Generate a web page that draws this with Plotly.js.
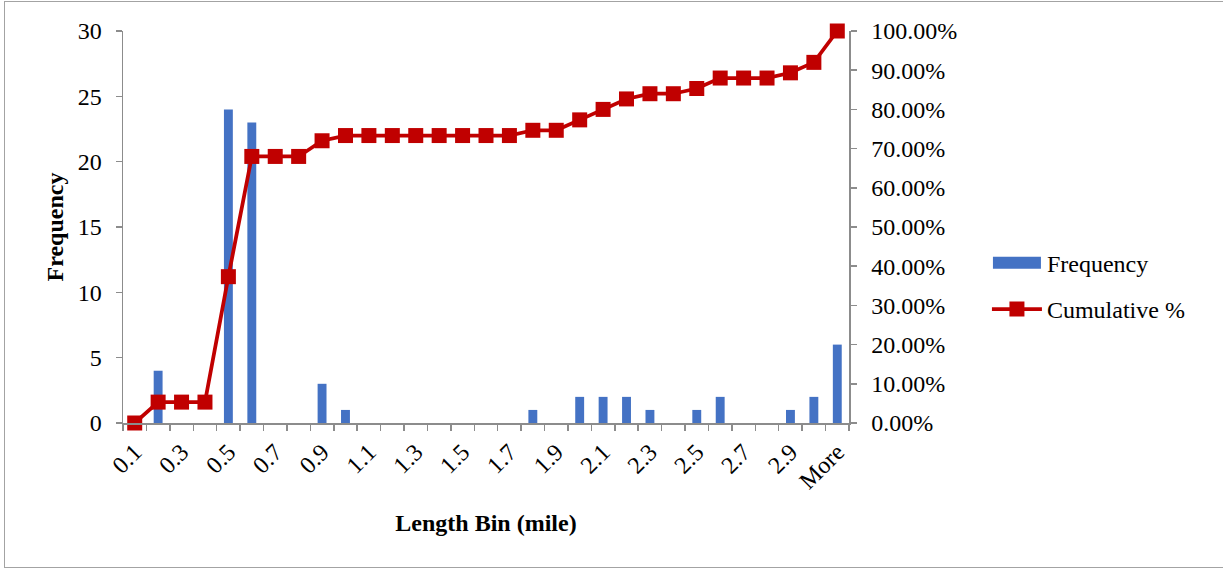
<!DOCTYPE html>
<html>
<head>
<meta charset="utf-8">
<script src="https://cdn.plot.ly/plotly-3.0.1.min.js"></script>
<style>
  html, body { margin: 0; padding: 0; background: #ffffff; }
  #wrap { position: relative; width: 1223px; height: 569px; overflow: hidden; }
  #chart { width: 1223px; height: 569px; }
  #frame {
    position: absolute; left: 4px; top: 1px; width: 1240px; height: 565px;
    border: 1.5px solid #a3a3a3; pointer-events: none;
  }
</style>
</head>
<body>
<div id="wrap">
  <div id="chart"></div>
  <div id="frame"></div>
</div>
<script>
// Length bins (miles) used for the histogram
const bins = ['0.1','0.2','0.3','0.4','0.5','0.6','0.7','0.8','0.9','1.0',
              '1.1','1.2','1.3','1.4','1.5','1.6','1.7','1.8','1.9','2.0',
              '2.1','2.2','2.3','2.4','2.5','2.6','2.7','2.8','2.9','3.0','More'];

// Axis labels printed under every other bin
const binLabels = ['0.1','','0.3','','0.5','','0.7','','0.9','',
                   '1.1','','1.3','','1.5','','1.7','','1.9','',
                   '2.1','','2.3','','2.5','','2.7','','2.9','','More'];

// Count of segments falling in each bin
const frequency = [0, 4, 0, 0, 24, 23, 0, 0, 3, 1,
                   0, 0, 0, 0, 0, 0, 0, 1, 0, 2,
                   2, 2, 1, 0, 1, 2, 0, 0, 1, 2, 6];

// Cumulative share of segments (percent)
const cumulativePct = [0.00, 5.33, 5.33, 5.33, 37.33, 68.00, 68.00, 68.00, 72.00, 73.33,
                       73.33, 73.33, 73.33, 73.33, 73.33, 73.33, 73.33, 74.67, 74.67, 77.33,
                       80.00, 82.67, 84.00, 84.00, 85.33, 88.00, 88.00, 88.00, 89.33, 92.00, 100.00];

const serif = 'Liberation Serif, Times New Roman, serif';
const axisGray = '#8c8c8c';
const tickFont = { family: serif, size: 24, color: '#000000' };

const traces = [
  {
    type: 'bar',
    name: 'Frequency',
    x: bins,
    y: frequency,
    marker: { color: '#4472C4' },
    legendgroup: 'a',
    hoverinfo: 'x+y'
  },
  {
    type: 'scatter',
    mode: 'lines+markers',
    name: 'Cumulative %',
    x: bins,
    y: cumulativePct,
    yaxis: 'y2',
    line: { color: '#C00000', width: 3.75 },
    marker: { symbol: 'square', size: 15, color: '#C00000' },
    cliponaxis: false,
    legendgroup: 'b'
  }
];

const layout = {
  width: 1223,
  height: 569,
  margin: { l: 123, r: 374, t: 31, b: 146 },
  paper_bgcolor: '#ffffff',
  plot_bgcolor: '#ffffff',
  font: { family: serif, size: 22, color: '#000000' },
  bargap: 0.62,
  showlegend: true,
  legend: {
    x: 1.19, xanchor: 'left',
    y: 0.465, yanchor: 'top',
    itemwidth: 50,
    traceorder: 'grouped',
    tracegroupgap: 12,
    font: { family: serif, size: 24, color: '#000000' },
    bgcolor: 'rgba(0,0,0,0)'
  },
  xaxis: {
    type: 'category',
    range: [-0.5, bins.length - 0.5],
    autorange: false,
    tickmode: 'array',
    tickvals: bins,
    ticktext: binLabels,
    tickangle: -45,
    tickson: 'boundaries',
    ticks: 'outside',
    ticklen: 6,
    tickcolor: axisGray,
    tickwidth: 1.5,
    ticklabelstandoff: 4,
    showline: true,
    linecolor: axisGray,
    linewidth: 1.5,
    showgrid: false,
    zeroline: false,
    tickfont: tickFont,
    title: {
      text: '<b>Length Bin (mile)</b>',
      font: { family: serif, size: 24, color: '#000000' },
      standoff: 21
    }
  },
  yaxis: {
    range: [0, 30],
    dtick: 5,
    ticks: 'outside',
    ticklen: 6,
    tickcolor: axisGray,
    tickwidth: 1.5,
    ticklabelstandoff: 9,
    showline: true,
    linecolor: axisGray,
    linewidth: 1.5,
    showgrid: false,
    zeroline: false,
    tickfont: tickFont,
    title: {
      text: '<b>Frequency</b>',
      font: { family: serif, size: 24, color: '#000000' },
      standoff: 7
    }
  },
  yaxis2: {
    overlaying: 'y',
    side: 'right',
    range: [0, 100],
    dtick: 10,
    tickformat: '.2f',
    ticksuffix: '%',
    ticks: 'outside',
    ticklen: 6,
    tickcolor: axisGray,
    tickwidth: 1.5,
    ticklabelstandoff: 10,
    showline: true,
    linecolor: axisGray,
    linewidth: 1.5,
    showgrid: false,
    zeroline: false,
    tickfont: tickFont
  }
};

// Give the bar entry in the legend a wide, flat swatch
function widenBarSwatch() {
  const items = document.querySelectorAll('#chart .legend .traces');
  items.forEach(function (item) {
    const barPath = item.querySelector('.legendpoints .legendbar path, .legendpoints path.legendundefined');
    if (barPath && item.textContent.indexOf('Frequency') === 0) {
      barPath.setAttribute('d', 'M24,6H-24V-6H24Z');
    }
  });
}

Plotly.newPlot('chart', traces, layout, { displayModeBar: false, staticPlot: true })
  .then(function (gd) {
    widenBarSwatch();
    gd.on('plotly_afterplot', widenBarSwatch);
  });
</script>
</body>
</html>
